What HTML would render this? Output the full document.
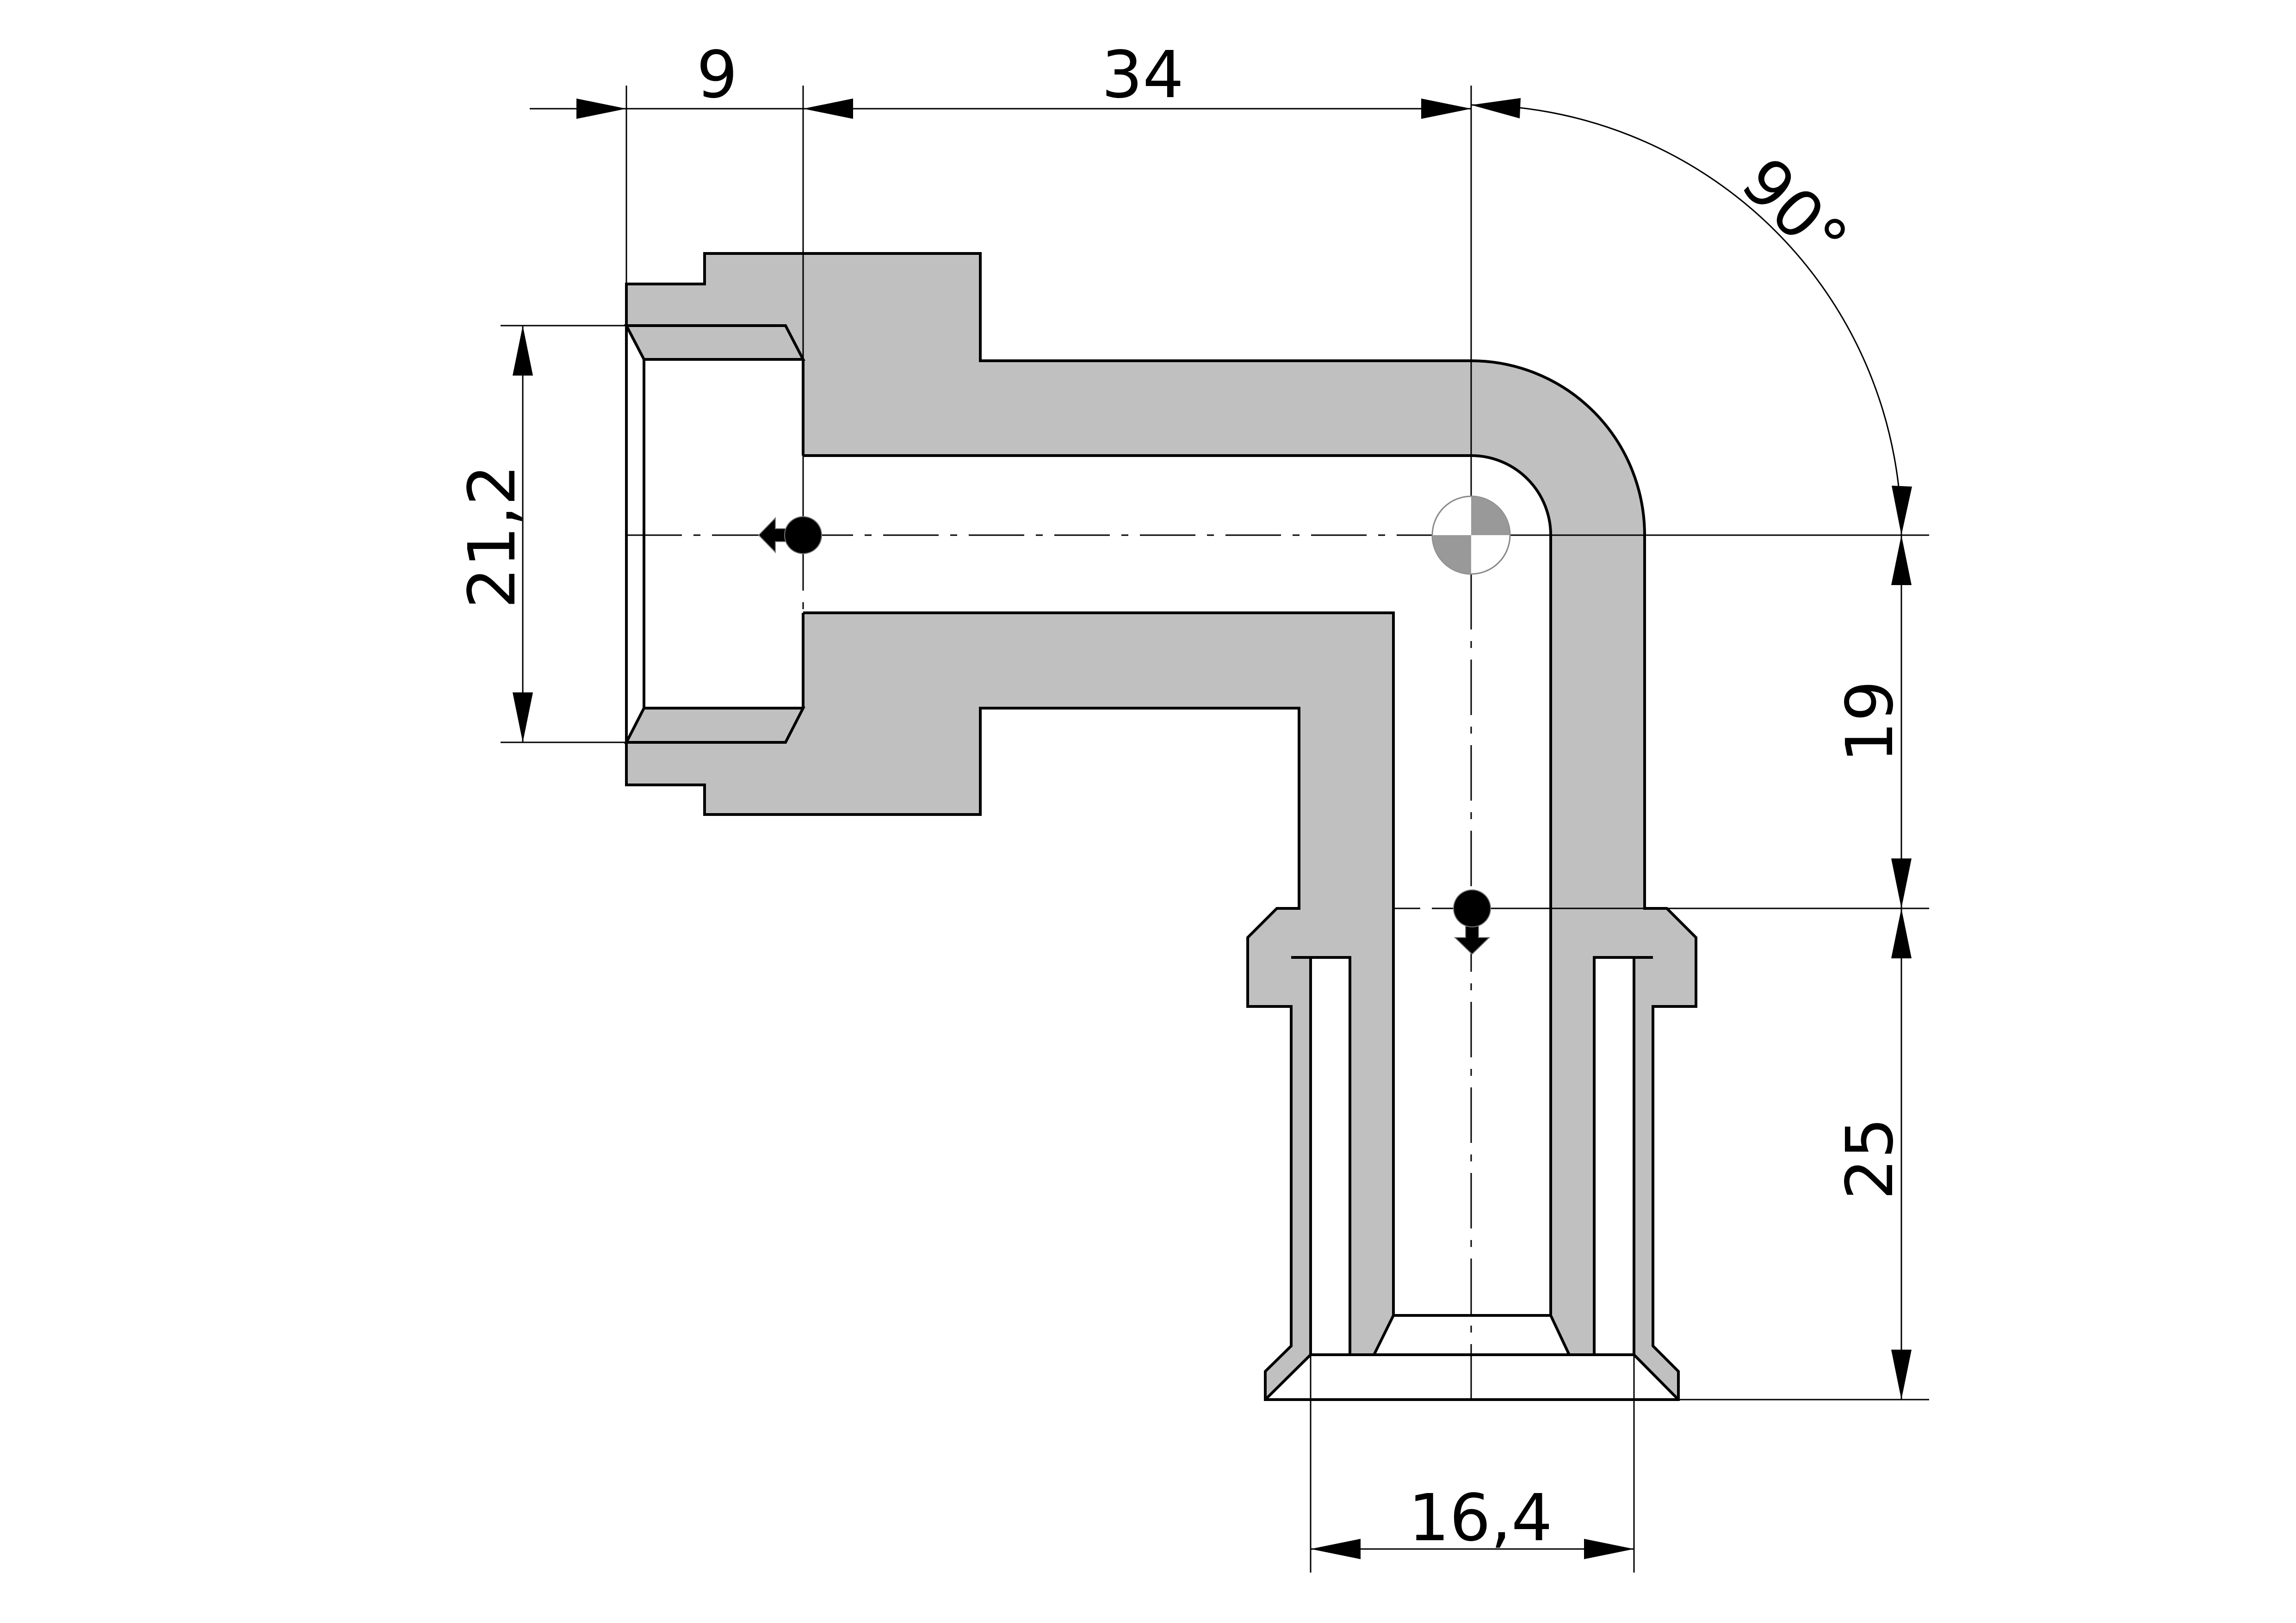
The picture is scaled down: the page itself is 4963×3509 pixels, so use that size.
<!DOCTYPE html>
<html><head><meta charset="utf-8"><style>html,body{margin:0;padding:0;background:#fff}svg{display:block}</style></head><body>
<svg width="4963" height="3509" viewBox="0 0 4963 3509" xmlns="http://www.w3.org/2000/svg">
<rect width="4963" height="3509" fill="#fff"/>
<path d="M1354,614 H1523 V548 H2119 V780 H3180 A375,377 0 0 1 3555,1157 V1964 H3603 L3666,2027 V2176 H3573 V2910 L3628,2965 V3026 H2735 V2965 L2791,2910 V2176 H2697 V2027 L2760,1964 H2808 V1531 H2119 V1761 H1523 V1697 H1354 Z" fill="#c0c0c0"/>
<g fill="#fff">
<path d="M1354,704 L1392,777 H1736 V1531 H1392 L1354,1605 Z"/>
<path d="M1736,985 H3180 A172,172 0 0 1 3352,1157 V2844 L3392,2929 H2970 L3012,2844 V1325 H1736 Z"/>
<rect x="2833" y="2070" width="85" height="859"/>
<rect x="3446" y="2070" width="86" height="859"/>
<path d="M2833,2929 H3532 L3628,3026 H2735 Z"/>
</g>
<g stroke="#000" stroke-width="3" fill="none">
<line x1="1145" y1="235" x2="3180" y2="235"/>
<line x1="1354" y1="185" x2="1354" y2="614"/>
<line x1="1736" y1="185" x2="1736" y2="1157"/>
<line x1="3180" y1="185" x2="3180" y2="1073"/>
<path d="M3180,227 A930,930 0 0 1 4110,1157"/>
<line x1="1082" y1="704" x2="1354" y2="704"/>
<line x1="1082" y1="1605" x2="1354" y2="1605"/>
<line x1="1130" y1="704" x2="1130" y2="1605"/>
<line x1="3264" y1="1157" x2="4170" y2="1157"/>
<line x1="3222" y1="1964" x2="4170" y2="1964"/>
<line x1="3628" y1="3026" x2="4170" y2="3026"/>
<line x1="4110" y1="1157" x2="4110" y2="3026"/>
<line x1="2833" y1="2929" x2="2833" y2="3400"/>
<line x1="3532" y1="2929" x2="3532" y2="3400"/>
<line x1="2833" y1="3349" x2="3532" y2="3349"/>
<line x1="3180" y1="2929" x2="3180" y2="3026"/>
<line x1="1354" y1="1157" x2="3096" y2="1157" stroke-dasharray="120 25 15 25"/>
<line x1="1736" y1="1157" x2="1736" y2="1325" stroke-dasharray="120 25 15 25"/>
<line x1="3180" y1="1241" x2="3180" y2="2929" stroke-dasharray="120 25 15 25"/>
<line x1="3010" y1="1964" x2="3142" y2="1964" stroke-dasharray="60 25"/>
</g>
<circle cx="3180" cy="1157" r="84" fill="#fff" stroke="#888" stroke-width="3"/>
<path d="M3180,1157 V1073 A84,84 0 0 1 3264,1157 Z M3180,1157 V1241 A84,84 0 0 1 3096,1157 Z" fill="#999"/>
<g stroke="#000" stroke-width="6" fill="none" stroke-linejoin="miter">
<path d="M1354,614 H1523 V548 H2119 V780 H3180 A375,377 0 0 1 3555,1157 V1964 H3603 L3666,2027 V2176 H3573 V2910 L3628,2965 V3026 H2735 V2965 L2791,2910 V2176 H2697 V2027 L2760,1964 H2808 V1531 H2119 V1761 H1523 V1697 H1354 Z"/>
<path d="M1354,704 H1698 L1736,777 H1392 Z"/>
<path d="M1354,1605 H1698 L1736,1531 H1392 Z"/>
<line x1="1392" y1="777" x2="1392" y2="1531"/>
<line x1="1736" y1="777" x2="1736" y2="985"/>
<line x1="1736" y1="1325" x2="1736" y2="1531"/>
<path d="M1736,985 H3180 A172,172 0 0 1 3352,1157 V2844 L3392,2929"/>
<path d="M1736,1325 H3012 V2844 L2970,2929"/>
<line x1="3012" y1="2844" x2="3352" y2="2844"/>
<path d="M2791,2070 H2918 V2929"/>
<line x1="2833" y1="2070" x2="2833" y2="2929"/>
<path d="M3573,2070 H3446 V2929"/>
<line x1="3532" y1="2070" x2="3532" y2="2929"/>
<path d="M2735,3026 L2833,2929 H3532 L3628,3026"/>
</g>
<g fill="#000">
<polygon points="1354,235 1246,213 1246,257"/>
<polygon points="1736,235 1844,213 1844,257"/>
<polygon points="3180,235 3072,213 3072,257"/>
<polygon points="3180,227 3287,212 3285,256"/>
<polygon points="4110,1157 4089,1050 4133,1052"/>
<polygon points="4110,1157 4088,1265 4132,1265"/>
<polygon points="4110,1964 4088,1856 4132,1856"/>
<polygon points="4110,1964 4088,2072 4132,2072"/>
<polygon points="4110,3026 4088,2918 4132,2918"/>
<polygon points="1130,704 1108,812 1152,812"/>
<polygon points="1130,1605 1108,1497 1152,1497"/>
<polygon points="2833,3349 2941,3327 2941,3371"/>
<polygon points="3532,3349 3424,3327 3424,3371"/>
</g>
<g fill="#000" stroke="#777" stroke-width="2">
<path d="M1640,1157 L1676,1120 V1143 H1706 V1171 H1676 V1194 Z"/>
<circle cx="1736" cy="1157" r="40"/>
<path d="M3182,2063 L3145,2027 H3168 V1995 H3196 V2027 H3219 Z"/>
<circle cx="3182" cy="1964" r="40"/>
</g>
<g font-family="'DejaVu Sans','Liberation Sans',sans-serif" font-size="140" fill="#000" text-anchor="middle">
<text x="1550" y="210">9</text>
<text x="2470" y="210">34</text>
<text x="3200" y="3330">16,4</text>
<text transform="translate(1112,1160) rotate(-90)">21,2</text>
<text transform="translate(4090,1560) rotate(-90)">19</text>
<text transform="translate(4090,2505) rotate(-90)">25</text>
<text transform="translate(3845,490) rotate(45)">90°</text>
</g>
</svg>
</body></html>
